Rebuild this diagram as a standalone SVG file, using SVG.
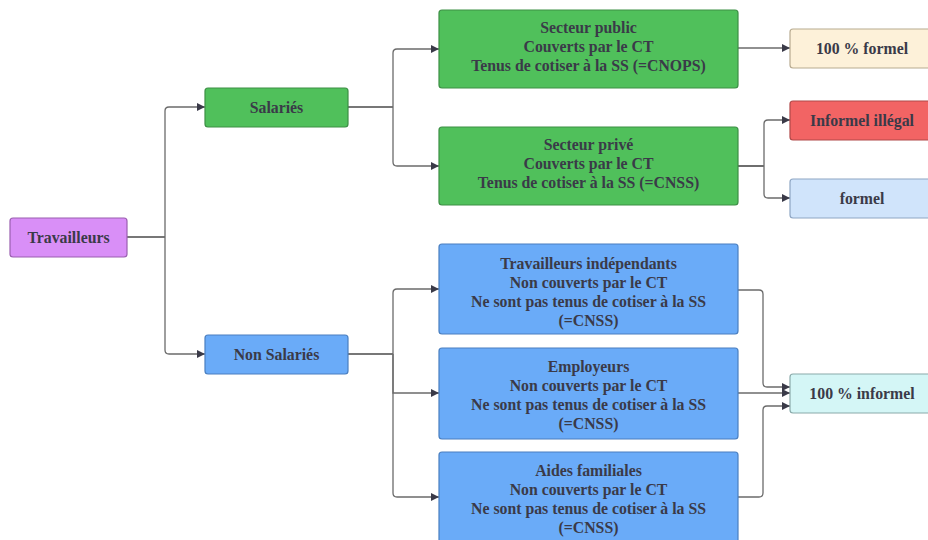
<svg xmlns="http://www.w3.org/2000/svg" width="928" height="540" viewBox="0 0 928 540">
<defs>
<marker id="arr" viewBox="0 0 10 10" refX="10" refY="5" markerWidth="10" markerHeight="8" markerUnits="userSpaceOnUse" orient="auto">
<path d="M0,0 L10,5 L0,10 z" fill="#3a3a48"/>
</marker>
<style>
.t{font-family:"Liberation Serif","Times New Roman",serif;font-weight:bold;font-size:15.8px;fill:#3a3a48;text-anchor:middle}
.c{fill:none;stroke:#6b6b6b;stroke-width:1.3}
.cd{fill:none;stroke:#4a4a4a;stroke-width:1.6}
.a{marker-end:url(#arr)}
rect{stroke-width:1.2}
.pu{fill:#d98ff7;stroke:#9a5fb0}
.gr{fill:#50c05b;stroke:#3c8f45}
.bl{fill:#6aabf8;stroke:#4a7fc0}
.ye{fill:#fdf1d9;stroke:#b8ab90}
.re{fill:#f26464;stroke:#b04848}
.lb{fill:#d0e4fb;stroke:#8ea6c4}
.cy{fill:#d4f6f6;stroke:#8aaaaa}
</style>
</defs>
<rect width="928" height="540" fill="#ffffff" stroke="none"/>
<g id="connectors">
<path class="cd" d="M127,237 H165"/>
<path class="c a" d="M165,237 V111 Q165,107 169,107 H205"/>
<path class="c a" d="M165,237 V350 Q165,354 169,354 H205"/>
<path class="cd" d="M348,107 H393"/>
<path class="c a" d="M393,107 V53 Q393,49 397,49 H439"/>
<path class="c a" d="M393,107 V162 Q393,166 397,166 H439"/>
<path class="c a" d="M738,48 H790"/>
<path class="cd" d="M738,166 H764"/>
<path class="c a" d="M764,166 V124 Q764,120 768,120 H790"/>
<path class="c a" d="M764,166 V194 Q764,198 768,198 H790"/>
<path class="cd" d="M348,354 H393"/>
<path class="c a" d="M393,354 V293 Q393,289 397,289 H439"/>
<path class="c a" d="M393,354 V393 H439"/>
<path class="c a" d="M393,354 V493 Q393,497 397,497 H439"/>
<path class="c a" d="M738,290 H759 Q763,290 763,294 V383 Q763,387 767,387 H790"/>
<path class="c a" d="M738,393 H790"/>
<path class="c a" d="M738,497 H759 Q763,497 763,493 V410 Q763,406 767,406 H790"/>
</g>
<g id="n-travailleurs">
<rect class="pu" x="10" y="218" width="117" height="39" rx="3"/>
<text class="t" x="68.5" y="242.5">Travailleurs</text>
</g>
<g id="n-salaries">
<rect class="gr" x="205" y="88" width="143" height="39" rx="3"/>
<text class="t" x="276.5" y="112.5">Salariés</text>
</g>
<g id="n-nonsalaries">
<rect class="bl" x="205" y="335" width="143" height="39" rx="3"/>
<text class="t" x="276.5" y="359.5">Non Salariés</text>
</g>
<g id="n-public">
<rect class="gr" x="439" y="10" width="299" height="78" rx="3"/>
<text class="t" x="588.5" y="32.5">Secteur public</text>
<text class="t" x="588.5" y="51.5">Couverts par le CT</text>
<text class="t" x="588.5" y="70.5">Tenus de cotiser à la SS (=CNOPS)</text>
</g>
<g id="n-prive">
<rect class="gr" x="439" y="127" width="299" height="78" rx="3"/>
<text class="t" x="588.5" y="149.5">Secteur privé</text>
<text class="t" x="588.5" y="168.5">Couverts par le CT</text>
<text class="t" x="588.5" y="187.5">Tenus de cotiser à la SS (=CNSS)</text>
</g>
<g id="n-independants">
<rect class="bl" x="439" y="244" width="299" height="90" rx="3"/>
<text class="t" x="588.5" y="268.5">Travailleurs indépendants</text>
<text class="t" x="588.5" y="287.5">Non couverts par le CT</text>
<text class="t" x="588.5" y="306.5">Ne sont pas tenus de cotiser à la SS</text>
<text class="t" x="588.5" y="325.5">(=CNSS)</text>
</g>
<g id="n-employeurs">
<rect class="bl" x="439" y="348" width="299" height="91" rx="3"/>
<text class="t" x="588.5" y="371.5">Employeurs</text>
<text class="t" x="588.5" y="390.5">Non couverts par le CT</text>
<text class="t" x="588.5" y="409.5">Ne sont pas tenus de cotiser à la SS</text>
<text class="t" x="588.5" y="428.5">(=CNSS)</text>
</g>
<g id="n-aides">
<rect class="bl" x="439" y="452" width="299" height="92" rx="3"/>
<text class="t" x="588.5" y="475.5">Aides familiales</text>
<text class="t" x="588.5" y="494.5">Non couverts par le CT</text>
<text class="t" x="588.5" y="513.5">Ne sont pas tenus de cotiser à la SS</text>
<text class="t" x="588.5" y="532.5">(=CNSS)</text>
</g>
<g id="n-formel100">
<rect class="ye" x="790" y="29" width="146" height="39" rx="3"/>
<text class="t" x="862" y="53.5">100 % formel</text>
</g>
<g id="n-illegal">
<rect class="re" x="790" y="101" width="146" height="39" rx="3"/>
<text class="t" x="862" y="125.5">Informel illégal</text>
</g>
<g id="n-formel">
<rect class="lb" x="790" y="179" width="146" height="39" rx="3"/>
<text class="t" x="862" y="203.5">formel</text>
</g>
<g id="n-informel100">
<rect class="cy" x="790" y="374" width="146" height="39" rx="3"/>
<text class="t" x="862" y="398.5">100 % informel</text>
</g>
</svg>
